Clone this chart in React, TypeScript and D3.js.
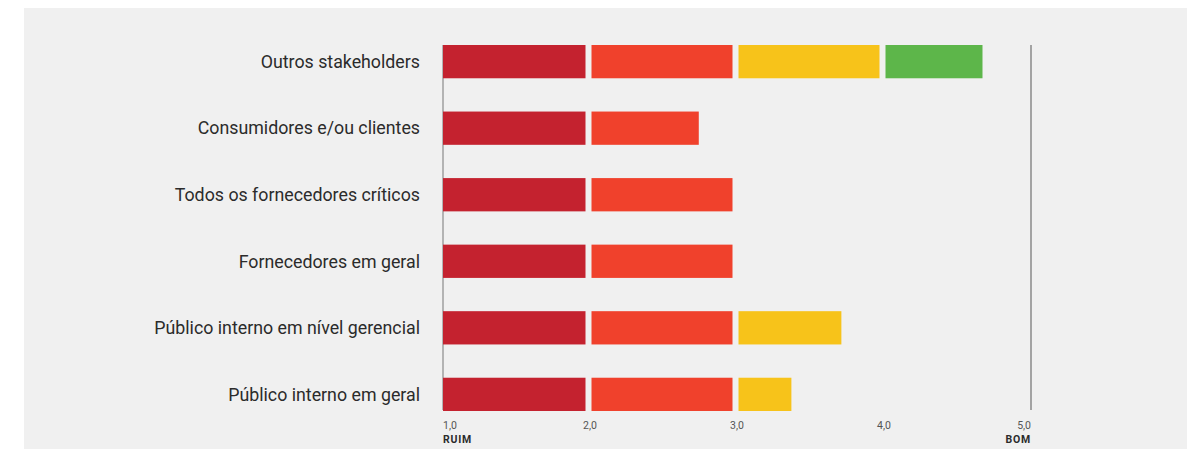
import React from "react";
import * as d3 from "d3";

const categories = [
  "Outros stakeholders",
  "Consumidores e/ou clientes",
  "Todos os fornecedores críticos",
  "Fornecedores em geral",
  "Público interno em nível gerencial",
  "Público interno em geral",
];
const values = [4.67, 2.74, 3.0, 3.0, 3.71, 3.37];
const segmentColors = ["#c4222f", "#f0412c", "#f7c31a", "#5db64a"];
const tickValues = [1, 2, 3, 4, 5];
const tickLabels = ["1,0", "2,0", "3,0", "4,0", "5,0"];
const endLabels = ["RUIM", "BOM"];

const W = 1193;
const H = 449;

export default function App() {
  const x = d3.scaleLinear().domain([1, 5]).range([443, 1031]);
  const y = d3
    .scaleBand<string>()
    .domain(categories)
    .range([45, 411])
    .paddingInner(0.5)
    .paddingOuter(0);

  const segs: { key: string; x0: number; x1: number; y: number; h: number; c: string }[] = [];
  categories.forEach((cat, ci) => {
    const v = values[ci];
    for (let i = 1; i < 5; i++) {
      if (v <= i) break;
      const full = v >= i + 1 - 1e-9;
      const x0 = x(i) + (i > 1 ? 1.5 : 0);
      const x1 = full ? x(i + 1) - 4.5 : x(v);
      segs.push({
        key: `${ci}-${i}`,
        x0,
        x1,
        y: y(cat)!,
        h: y.bandwidth(),
        c: segmentColors[i - 1],
      });
    }
  });

  const font = "Roboto, 'DejaVu Sans', sans-serif";

  return (
    <svg
      width={W}
      height={H}
      style={{ position: "absolute", left: 0, top: 0, display: "block" }}
    >
      <rect x={0} y={0} width={W} height={H} fill="#ffffff" />
      <rect x={24} y={8} width={1163} height={H - 8} fill="#f0f0f0" />
      {categories.map((c) => (
        <text
          key={c}
          x={420}
          y={y(c)! + y.bandwidth() / 2}
          dy="0.35em"
          textAnchor="end"
          fontFamily={font}
          fontSize={17.8}
          fill="#2b2b2b"
        >
          {c}
        </text>
      ))}
      <line x1={x(1)} x2={x(1)} y1={45} y2={410} stroke="#8a8a8a" strokeWidth={1.2} />
      <line x1={x(5)} x2={x(5)} y1={45} y2={410} stroke="#8a8a8a" strokeWidth={1.5} />
      {segs.map((s) => (
        <rect key={s.key} x={s.x0} y={s.y} width={s.x1 - s.x0} height={s.h} fill={s.c} />
      ))}
      {tickValues.map((t, i) => (
        <text
          key={t}
          x={x(t)}
          y={425}
          dy="0.35em"
          textAnchor={i === 0 ? "start" : i === tickValues.length - 1 ? "end" : "middle"}
          fontFamily={font}
          fontSize={10.5}
          fill="#555"
        >
          {tickLabels[i]}
        </text>
      ))}
      <text x={x(1)} y={439} dy="0.35em" textAnchor="start" fontFamily={font} fontSize={10.5} letterSpacing={0.8} fontWeight="bold" fill="#2b2b2b">
        {endLabels[0]}
      </text>
      <text x={x(5)} y={439} dy="0.35em" textAnchor="end" fontFamily={font} fontSize={10.5} letterSpacing={0.8} fontWeight="bold" fill="#2b2b2b">
        {endLabels[1]}
      </text>
    </svg>
  );
}
